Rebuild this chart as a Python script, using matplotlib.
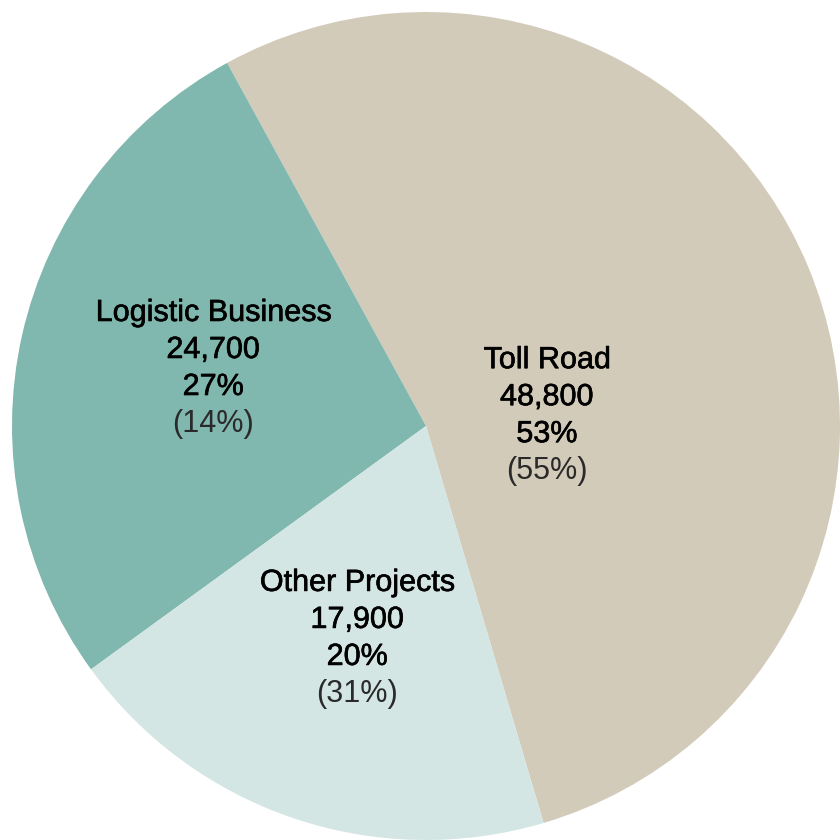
import matplotlib
matplotlib.use("Agg")
import matplotlib.pyplot as plt
import matplotlib.patheffects as pe

plt.rcParams['font.family'] = ['Liberation Sans', 'DejaVu Sans']

# data
segments = ["Toll Road", "Logistic Business", "Other Projects"]
values = [48800, 24700, 17900]
shares = ["53%", "27%", "20%"]
prev_shares = ["(55%)", "(14%)", "(31%)"]
colors = ["#D3CBBA", "#80B7AE", "#D3E6E3"]

# label anchors (centre of first line), in axis units of radius
label_pos = [(0.292, 0.159), (-0.514, 0.273), (-0.166, -0.379)]
line_gap = 0.0894

fig = plt.figure(figsize=(8.4, 8.4), dpi=100)
ax = fig.add_axes([0, 0, 1, 1])

ax.pie(values, colors=colors, startangle=-73.5, counterclock=True,
       radius=1.0, center=(0, 0), wedgeprops=dict(linewidth=0))

thick = [pe.withStroke(linewidth=0.45, foreground="black")]
for i, name in enumerate(segments):
    x, y = label_pos[i]
    lines = [name, f"{values[i]:,}", shares[i], prev_shares[i]]
    for j, txt in enumerate(lines):
        if j < 3:
            ax.text(x, y - j * line_gap, txt, ha="center", va="center",
                    fontsize=22, color="black", path_effects=thick)
        else:
            ax.text(x, y - j * line_gap, txt, ha="center", va="center",
                    fontsize=22, color="#2a2a2a")

ax.set_xlim(-426 / 414, 414 / 414)
ax.set_ylim(-414 / 414, 426 / 414)
ax.set_aspect("equal")
ax.axis("off")

fig.savefig("out.png", dpi=100)
